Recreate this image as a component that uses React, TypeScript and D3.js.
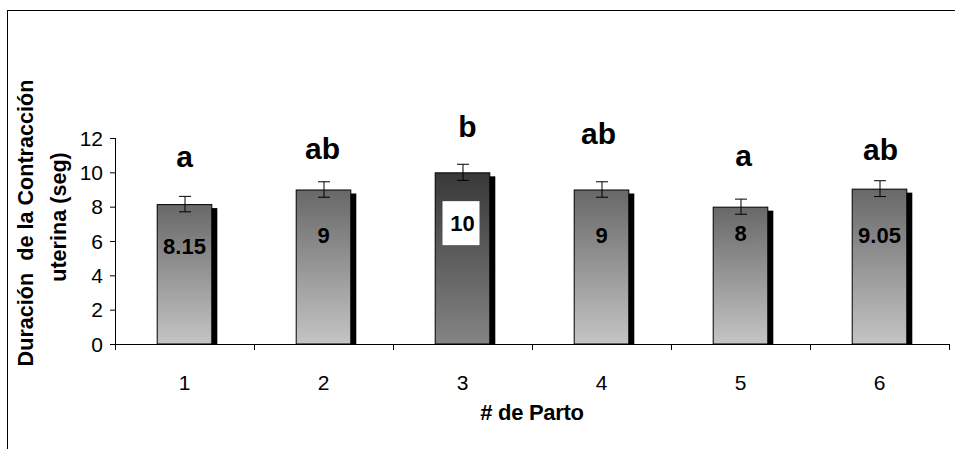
import React from "react";
import * as d3 from "d3";

const categories = ["1", "2", "3", "4", "5", "6"];
const values = [8.15, 9, 10, 9, 8, 9.05];
const errors = [0.45, 0.45, 0.47, 0.45, 0.44, 0.46];
const valueLabels = ["8.15", "9", "10", "9", "8", "9.05"];
const letters = ["a", "ab", "b", "ab", "a", "ab"];
const yTicks = [0, 2, 4, 6, 8, 10, 12];
// layout (data units) for manually placed labels
const valueLabelAt = [5.71, 6.35, 7.04, 6.35, 6.46, 6.35];
const letterBaseAt = [10.31, 10.77, 12.07, 11.65, 10.37, 10.72];
const letterDx = [0, -1, 5, -3, 3, 1];

const W = 955;
const H = 449;
const left = 115;
const right = 949;
const top = 138;
const bottom = 344;
const FONT = "'Liberation Sans', Arial, sans-serif";

export default function App() {
  const x = d3
    .scaleBand<string>()
    .domain(categories)
    .range([left, right])
    .paddingInner(0.6)
    .paddingOuter(0.3);
  const y = d3.scaleLinear().domain([0, 12]).range([bottom, top]);
  const step = x.step();
  const bw = x.bandwidth();
  const boundaries = [0, ...categories.map((_, i) => i + 1)].map(
    (i) => left + i * step
  );

  return (
    <div style={{ position: "absolute", left: 0, top: 0 }}>
      <svg width={W} height={H} style={{ display: "block", background: "#fff" }}>
        <defs>
          <linearGradient id="gLight" x1="0" y1="0" x2="0" y2="1">
            <stop offset="0%" stopColor="#686868" />
            <stop offset="100%" stopColor="#c4c4c4" />
          </linearGradient>
          <linearGradient id="gDark" x1="0" y1="0" x2="0" y2="1">
            <stop offset="0%" stopColor="#383838" />
            <stop offset="100%" stopColor="#848484" />
          </linearGradient>
        </defs>
        {/* frame */}
        <rect x={7.5} y={10.5} width={W} height={H} fill="none" stroke="#000" strokeWidth={1} />

        {/* bars */}
        {categories.map((c, i) => {
          const x0 = x(c)!;
          const yt = y(values[i]);
          return (
            <g key={c}>
              <rect x={x0 + 5} y={yt + 4} width={bw} height={bottom - yt - 4} fill="#000" />
              <rect
                x={x0 + 0.5}
                y={yt + 0.5}
                width={bw - 1}
                height={bottom - yt - 0.5}
                fill={i === 2 ? "url(#gDark)" : "url(#gLight)"}
                stroke="#000"
                strokeWidth={1}
              />
            </g>
          );
        })}

        {/* axes */}
        <line x1={left} x2={right} y1={bottom + 0.5} y2={bottom + 0.5} stroke="#000" />
        {boundaries.map((bx, i) => (
          <line key={i} x1={bx + 0.5} x2={bx + 0.5} y1={bottom} y2={bottom + 6} stroke="#000" />
        ))}
        <line x1={left + 0.5} x2={left + 0.5} y1={top} y2={bottom} stroke="#000" />
        {yTicks.map((t) => (
          <g key={t}>
            <line x1={left - 5} x2={left} y1={y(t) + 0.5} y2={y(t) + 0.5} stroke="#000" />
            <text
              x={left - 12}
              y={y(t)}
              dy="0.36em"
              textAnchor="end"
              fontFamily={FONT}
              fontSize={21}
            >
              {t}
            </text>
          </g>
        ))}
        {categories.map((c) => (
          <text
            key={c}
            x={x(c)! + bw / 2}
            y={382}
            dy="0.36em"
            textAnchor="middle"
            fontFamily={FONT}
            fontSize={21}
          >
            {c}
          </text>
        ))}

        {/* error bars */}
        {categories.map((c, i) => {
          const cx = x(c)! + bw / 2 + 0.5;
          const y1 = y(values[i] + errors[i]);
          const y2 = y(values[i] - errors[i]);
          return (
            <g key={c} stroke="#000" strokeWidth={1}>
              <line x1={cx} x2={cx} y1={y1} y2={y2} />
              <line x1={cx - 6} x2={cx + 6} y1={y1} y2={y1} />
              <line x1={cx - 6} x2={cx + 6} y1={y2} y2={y2} />
            </g>
          );
        })}

        {/* value labels */}
        {categories.map((c, i) => {
          const cx = x(c)! + bw / 2;
          const cy = y(valueLabelAt[i]);
          return (
            <g key={c}>
              {i === 2 && <rect x={cx - 20} y={cy - 22} width={37} height={44} fill="#fff" />}
              <text
                x={cx}
                y={cy}
                dy="0.36em"
                textAnchor="middle"
                fontFamily={FONT}
                fontWeight="bold"
                fontSize={22}
              >
                {valueLabels[i]}
              </text>
            </g>
          );
        })}

        {/* significance letters */}
        {categories.map((c, i) => (
          <text
            key={c}
            x={x(c)! + bw / 2 + letterDx[i]}
            y={y(letterBaseAt[i])}
            textAnchor="middle"
            fontFamily={FONT}
            fontWeight="bold"
            fontSize={30}
          >
            {letters[i]}
          </text>
        ))}

        {/* axis titles */}
        <text
          x={532}
          y={420}
          textAnchor="middle"
          fontFamily={FONT}
          fontWeight="bold"
          fontSize={22}
          letterSpacing={-0.3}
        >
          # de Parto
        </text>
        <text
          transform="translate(33,223) rotate(-90)"
          textAnchor="middle"
          fontFamily={FONT}
          fontWeight="bold"
          fontSize={21.6}
          style={{ whiteSpace: "pre" }}
        >
          {"Duración  de la Contracción"}
        </text>
        <text
          transform="translate(66,217) rotate(-90)"
          textAnchor="middle"
          fontFamily={FONT}
          fontWeight="bold"
          fontSize={21.6}
        >
          uterina (seg)
        </text>
      </svg>
    </div>
  );
}
